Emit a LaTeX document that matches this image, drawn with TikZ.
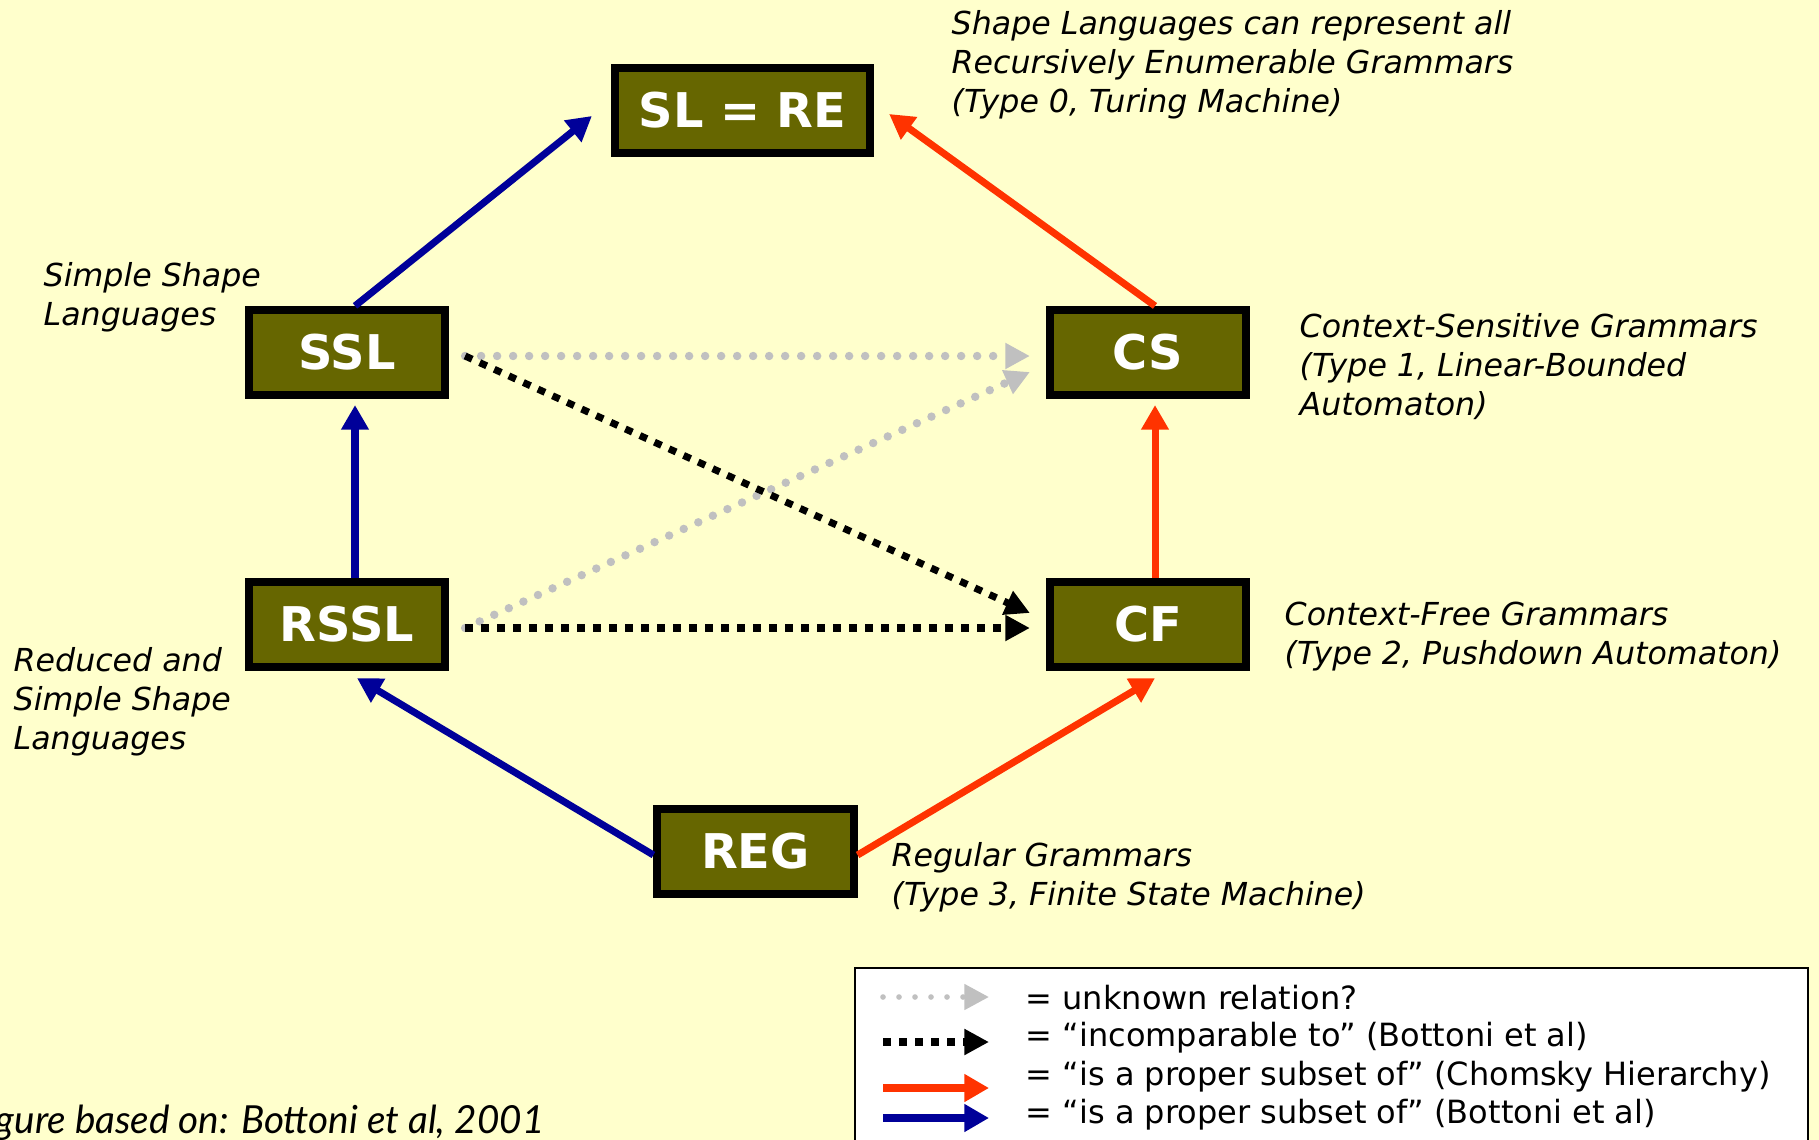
\documentclass[tikz,border=0pt]{standalone}
\usepackage{fontspec}
\setmainfont{DejaVu Sans}
\newfontfamily\creditfont{Lato}
\usetikzlibrary{arrows.meta}
\definecolor{paper}{HTML}{FFFFCC}
\definecolor{langolive}{HTML}{666600}
\definecolor{bottoniblue}{HTML}{000099}
\definecolor{chomskyred}{HTML}{FF3300}
\definecolor{unknowngray}{HTML}{C0C0C0}

\begin{document}
\begin{tikzpicture}[
        x=0.01cm, y=-0.01cm,
        lang/.style={
            draw=black,
            line width=2.3pt,
            fill=langolive,
            text=white,
            minimum width=1.96cm,
            minimum height=0.85cm,
            inner sep=0pt,
            font=\fontsize{13.6pt}{16pt}\selectfont\bfseries
        },
        note/.style={anchor=north west, align=left, inner sep=0pt, font=\fontsize{9pt}{11.1pt}\selectfont\itshape},
        keytext/.style={anchor=west, inner sep=0pt, font=\fontsize{9.1pt}{10pt}\selectfont},
        bottoni/.style={-{Triangle[length=7pt,width=7.5pt]}, line width=2pt, draw=bottoniblue},
        chomsky/.style={-{Triangle[length=7pt,width=7.5pt]}, line width=2pt, draw=chomskyred},
        unknown/.style={-{Triangle[length=7pt,width=7pt]}, line width=2.4pt, draw=unknowngray,
            line cap=round, dash pattern=on 0pt off 4.55pt},
        incomp/.style={-{Triangle[length=7pt,width=7pt]}, line width=2pt, draw=black,
            dash pattern=on 2.2pt off 2.35pt}
    ]
        \fill[paper] (0,0) rectangle (1819,1140);
        \useasboundingbox (0,0) rectangle (1819,1140);

        % language classes
        \node[lang, minimum width=2.55cm] (slre) at (742.5,110.5) {SL = RE};
        \node[lang] (ssl) at (347,352.5) {SSL};
        \node[lang] (cs) at (1148,352.5) {CS};
        \node[lang] (rssl) at (347,624.5) {RSSL};
        \node[lang] (cf) at (1148,624.5) {CF};
        \node[lang] (reg) at (755.5,851.5) {REG};

        % descriptions
        \node[note] (slrenote) at (951,10) {Shape Languages can represent all\\Recursively Enumerable Grammars\\(Type 0, Turing Machine)};
        \node[note] (sslnote) at (43,262) {Simple Shape\\Languages};
        \node[note] (csnote) at (1299,313) {Context-Sensitive Grammars\\(Type 1, Linear-Bounded\\Automaton)};
        \node[note] (cfnote) at (1284,601) {Context-Free Grammars\\(Type 2, Pushdown Automaton)};
        \node[note] (rsslnote) at (13,647) {Reduced and\\Simple Shape\\Languages};
        \node[note] (regnote) at (891,842) {Regular Grammars\\(Type 3, Finite State Machine)};
        \node[anchor=base east, inner sep=0pt, font=\creditfont\itshape\fontsize{11pt}{13pt}\selectfont] (credit) at (545,1133) {Figure based on: Bottoni et al, 2001};

        % subset relations
        \draw[bottoni] ([xshift=.08cm]ssl.north) -- ([xshift=-.19cm,yshift=-.055cm]slre.west);
        \draw[chomsky] ([xshift=.07cm]cs.north) -- ([xshift=.15cm,yshift=-.035cm]slre.east);
        \draw[bottoni] ([xshift=.08cm]rssl.north) -- ([xshift=.08cm,yshift=-.06cm]ssl.south);
        \draw[chomsky] ([xshift=.07cm]cf.north) -- ([xshift=.07cm,yshift=-.06cm]cs.south);
        \draw[bottoni] ([yshift=-.035cm]reg.west) -- ([xshift=.10cm,yshift=-.07cm]rssl.south);
        \draw[chomsky] ([yshift=-.035cm]reg.east) -- ([xshift=.07cm,yshift=-.07cm]cf.south);

        % unknown and incomparable
        \draw[unknown] ([xshift=.16cm,yshift=-.035cm]ssl.east) -- ([xshift=-.16cm,yshift=-.035cm]cs.west);
        \draw[unknown] ([xshift=.16cm,yshift=-.035cm]rssl.east) -- ([xshift=-.16cm,yshift=-.195cm]cs.west);
        \draw[incomp] ([xshift=.16cm,yshift=-.035cm]ssl.east) -- ([xshift=-.16cm,yshift=.115cm]cf.west);
        \draw[incomp] ([xshift=.16cm,yshift=-.035cm]rssl.east) -- ([xshift=-.16cm,yshift=-.035cm]cf.west);

        % legend
        \node[draw=black, line width=0.6pt, fill=white, anchor=north west, minimum width=9.52cm, minimum height=3cm] (legend) at (854,967) {};
        \node[keytext] (keyunknown) at (1025,998) {= unknown relation?};
        \node[keytext] (keyincomp) at (1025,1038) {= “incomparable to” (Bottoni et al)};
        \node[keytext] (keychomsky) at (1025,1077) {= “is a proper subset of” (Chomsky Hierarchy)};
        \node[keytext] (keybottoni) at (1025,1115) {= “is a proper subset of” (Bottoni et al)};
        \coordinate (u1) at (883,997);  \coordinate (u2) at (989,997);
        \coordinate (i1) at (883,1042); \coordinate (i2) at (989,1042);
        \coordinate (c1) at (883,1088); \coordinate (c2) at (989,1088);
        \coordinate (b1) at (883,1118); \coordinate (b2) at (989,1118);
        \draw[unknown, line width=1.6pt] (u1) -- (u2);
        \draw[incomp] (i1) -- (i2);
        \draw[chomsky, line width=2.4pt] (c1) -- (c2);
        \draw[bottoni, line width=2.4pt] (b1) -- (b2);
    \end{tikzpicture}
\end{document}
